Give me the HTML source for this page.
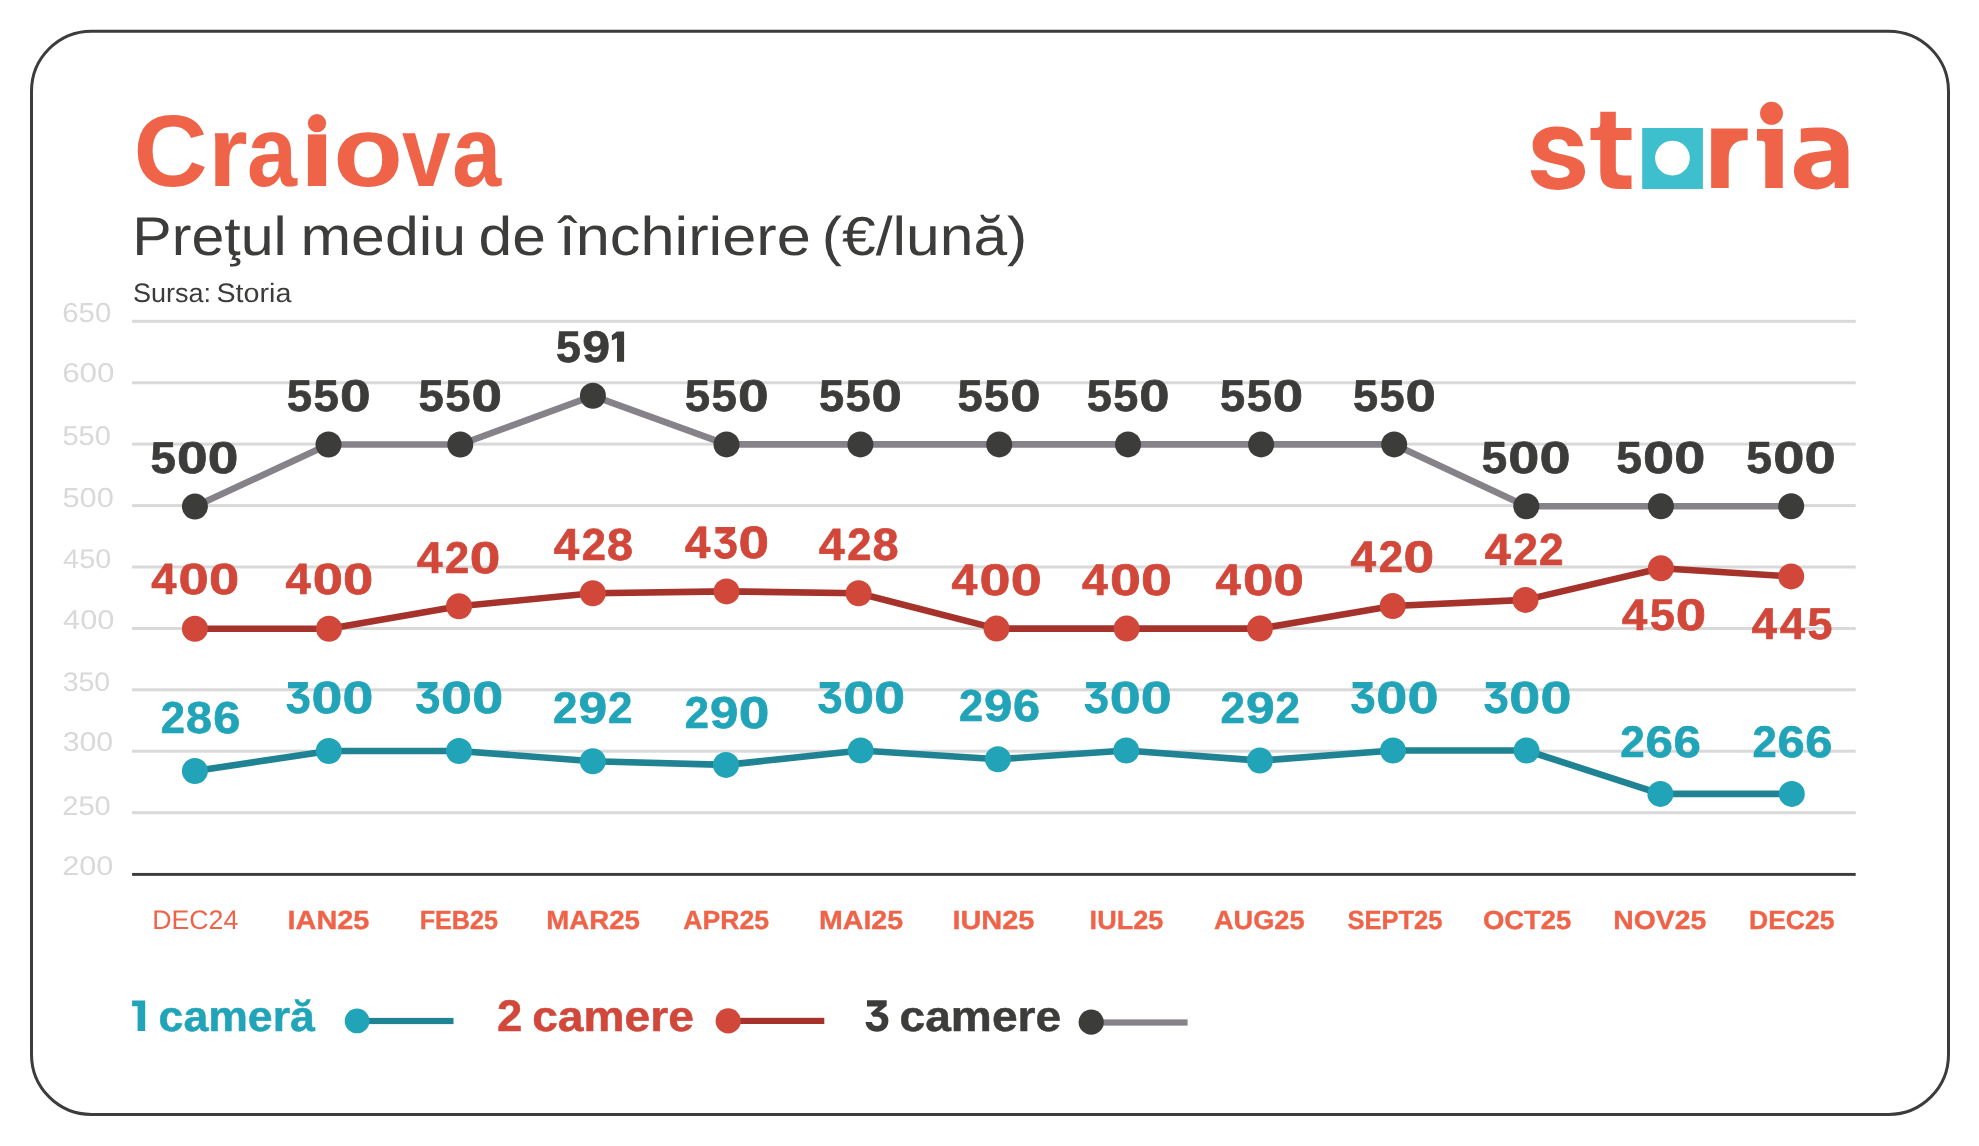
<!DOCTYPE html>
<html lang="ro"><head><meta charset="utf-8"><title>Craiova – Preţul mediu de închiriere</title>
<style>html,body{margin:0;padding:0;background:#fff;}body{width:1979px;height:1146px;overflow:hidden;font-family:"Liberation Sans",sans-serif;}svg{display:block;}</style>
</head><body>
<svg width="1979" height="1146" viewBox="0 0 1979 1146" font-family="'Liberation Sans', sans-serif" text-rendering="geometricPrecision" style="will-change:transform">
<rect x="0" y="0" width="1979" height="1146" fill="#ffffff"/>
<rect x="31.5" y="31.2" width="1917" height="1083.3" rx="60" ry="60" fill="none" stroke="#3c3c3b" stroke-width="3"/>
<rect x="132.1" y="319.8" width="1723.6" height="3" fill="#d9d9d9"/>
<rect x="132.1" y="381.3" width="1723.6" height="3" fill="#d9d9d9"/>
<rect x="132.1" y="442.6" width="1723.6" height="3" fill="#d9d9d9"/>
<rect x="132.1" y="504.1" width="1723.6" height="3" fill="#d9d9d9"/>
<rect x="132.1" y="565.5" width="1723.6" height="3" fill="#d9d9d9"/>
<rect x="132.1" y="627.0" width="1723.6" height="3" fill="#d9d9d9"/>
<rect x="132.1" y="688.3" width="1723.6" height="3" fill="#d9d9d9"/>
<rect x="132.1" y="749.7" width="1723.6" height="3" fill="#d9d9d9"/>
<rect x="132.1" y="811.2" width="1723.6" height="3" fill="#d9d9d9"/>
<rect x="132.1" y="872.95" width="1723.6" height="2.9" fill="#3c3c3b"/>
<polyline points="194.9,506.6 328.5,444.5 460.3,444.5 592.9,395.8 726.5,444.4 860.4,444.4 999.2,444.4 1128.0,444.4 1261.1,444.4 1394.2,444.4 1526.3,506.3 1660.9,506.3 1791.2,506.3" fill="none" stroke="#858289" stroke-width="6.6" stroke-linejoin="round"/>
<circle cx="194.9" cy="506.6" r="13.0" fill="#3c3c3b"/>
<circle cx="328.5" cy="444.5" r="13.0" fill="#3c3c3b"/>
<circle cx="460.3" cy="444.5" r="13.0" fill="#3c3c3b"/>
<circle cx="592.9" cy="395.8" r="13.0" fill="#3c3c3b"/>
<circle cx="726.5" cy="444.4" r="13.0" fill="#3c3c3b"/>
<circle cx="860.4" cy="444.4" r="13.0" fill="#3c3c3b"/>
<circle cx="999.2" cy="444.4" r="13.0" fill="#3c3c3b"/>
<circle cx="1128.0" cy="444.4" r="13.0" fill="#3c3c3b"/>
<circle cx="1261.1" cy="444.4" r="13.0" fill="#3c3c3b"/>
<circle cx="1394.2" cy="444.4" r="13.0" fill="#3c3c3b"/>
<circle cx="1526.3" cy="506.3" r="13.0" fill="#3c3c3b"/>
<circle cx="1660.9" cy="506.3" r="13.0" fill="#3c3c3b"/>
<circle cx="1791.2" cy="506.3" r="13.0" fill="#3c3c3b"/>
<polyline points="194.9,628.8 329.0,628.8 459.0,606.2 592.8,593.3 726.5,591.4 858.6,593.2 996.5,628.6 1126.6,628.6 1260.0,628.6 1392.7,606.0 1525.5,599.9 1660.9,568.3 1791.2,576.4" fill="none" stroke="#a5332c" stroke-width="6.6" stroke-linejoin="round"/>
<circle cx="194.9" cy="628.8" r="13.0" fill="#d1473a"/>
<circle cx="329.0" cy="628.8" r="13.0" fill="#d1473a"/>
<circle cx="459.0" cy="606.2" r="13.0" fill="#d1473a"/>
<circle cx="592.8" cy="593.3" r="13.0" fill="#d1473a"/>
<circle cx="726.5" cy="591.4" r="13.0" fill="#d1473a"/>
<circle cx="858.6" cy="593.2" r="13.0" fill="#d1473a"/>
<circle cx="996.5" cy="628.6" r="13.0" fill="#d1473a"/>
<circle cx="1126.6" cy="628.6" r="13.0" fill="#d1473a"/>
<circle cx="1260.0" cy="628.6" r="13.0" fill="#d1473a"/>
<circle cx="1392.7" cy="606.0" r="13.0" fill="#d1473a"/>
<circle cx="1525.5" cy="599.9" r="13.0" fill="#d1473a"/>
<circle cx="1660.9" cy="568.3" r="13.0" fill="#d1473a"/>
<circle cx="1791.2" cy="576.4" r="13.0" fill="#d1473a"/>
<polyline points="194.9,771.0 328.8,751.0 459.0,751.0 592.8,761.2 726.0,764.9 860.7,750.5 997.9,759.2 1126.2,750.5 1259.9,760.6 1393.0,750.5 1526.5,750.5 1660.4,793.9 1791.8,793.9" fill="none" stroke="#1f8394" stroke-width="6.6" stroke-linejoin="round"/>
<circle cx="194.9" cy="771.0" r="13.0" fill="#22a4b8"/>
<circle cx="328.8" cy="751.0" r="13.0" fill="#22a4b8"/>
<circle cx="459.0" cy="751.0" r="13.0" fill="#22a4b8"/>
<circle cx="592.8" cy="761.2" r="13.0" fill="#22a4b8"/>
<circle cx="726.0" cy="764.9" r="13.0" fill="#22a4b8"/>
<circle cx="860.7" cy="750.5" r="13.0" fill="#22a4b8"/>
<circle cx="997.9" cy="759.2" r="13.0" fill="#22a4b8"/>
<circle cx="1126.2" cy="750.5" r="13.0" fill="#22a4b8"/>
<circle cx="1259.9" cy="760.6" r="13.0" fill="#22a4b8"/>
<circle cx="1393.0" cy="750.5" r="13.0" fill="#22a4b8"/>
<circle cx="1526.5" cy="750.5" r="13.0" fill="#22a4b8"/>
<circle cx="1660.4" cy="793.9" r="13.0" fill="#22a4b8"/>
<circle cx="1791.8" cy="793.9" r="13.0" fill="#22a4b8"/>
<rect x="357" y="1017.9" width="96.5" height="6.2" fill="#1f8394"/><circle cx="357.1" cy="1020.9" r="12.4" fill="#22a4b8"/>
<rect x="728" y="1017.8" width="96.3" height="6.2" fill="#a5332c"/><circle cx="728.2" cy="1020.9" r="12.6" fill="#d1473a"/>
<rect x="1091" y="1019.4" width="96.6" height="6.2" fill="#858289"/><circle cx="1091.2" cy="1022.2" r="12.6" fill="#3c3c3b"/>
<!--LOGO-->
<path d="M 1583.09 146.26 L 1567.82 146.26 C 1566.95 141.02 1563.02 139.27 1557.35 139.27 C 1551.67 139.27 1548.18 141.89 1548.18 145.82 C 1548.18 150.62 1552.55 152.37 1563.02 154.55 C 1577.86 157.60 1585.01 161.09 1585.01 171.57 C 1585.01 182.91 1574.37 189.89 1557.78 189.89 C 1541.20 189.89 1532.04 182.04 1530.73 170.26 L 1546.44 170.26 C 1547.31 175.06 1551.67 177.94 1558.66 177.94 C 1565.64 177.94 1569.57 175.93 1569.57 172.00 C 1569.57 167.20 1563.89 165.89 1554.29 163.71 C 1539.46 160.66 1532.65 155.86 1532.65 145.38 C 1532.65 134.04 1542.07 126.62 1556.91 126.62 C 1571.75 126.62 1581.35 133.16 1583.09 146.26 Z" fill="#ef6349"/>
<path d="M 1600.29 111.78 L 1615.82 111.78 L 1615.82 128.10 L 1631.53 128.10 L 1631.53 139.97 L 1615.82 139.97 L 1615.82 168.07 C 1615.82 173.31 1618.00 175.49 1623.68 175.49 L 1631.53 175.49 L 1631.53 189.02 L 1619.75 189.02 C 1605.78 189.02 1600.29 183.78 1600.29 171.57 L 1600.29 139.97 L 1590.51 139.97 L 1590.51 128.10 L 1596.18 128.10 C 1598.80 128.10 1600.29 126.62 1600.29 123.56 Z" fill="#ef6349"/>
<path fill-rule="evenodd" d="M1642.2 128 H1702.9 V188.9 H1642.2 Z M1672.45 140.75 a17.35 17.35 0 1 0 0.01 0 Z" fill="#3ebfce"/>
<path d="M 1711.18 128.45 L 1747.65 128.45 L 1747.65 140.36 L 1744.90 140.36 C 1735.28 140.36 1728.68 146.32 1728.68 158.23 L 1728.68 188.01 L 1711.18 188.01 Z" fill="#ef6349"/>
<path d="M 1757.00 128.91 L 1782.75 128.91 L 1782.75 188.01 L 1765.25 188.01 L 1765.25 144.48 C 1765.25 141.74 1764.15 140.64 1761.86 140.64 L 1757.00 140.64 Z" fill="#ef6349"/>
<circle cx="1771.5" cy="113.3" r="11.45" fill="#ef6349"/>
<path fill-rule="evenodd" d="M 1800.80 128.72 C 1808.13 127.81 1814.55 127.53 1819.13 127.53 C 1837.46 127.53 1848.45 135.32 1848.45 151.82 L 1848.45 188.01 L 1834.71 188.01 L 1834.52 181.60 C 1830.13 186.64 1823.71 189.39 1816.38 189.39 C 1802.63 189.39 1793.93 182.06 1793.93 171.06 C 1793.93 159.15 1801.72 153.65 1815.46 152.00 L 1831.04 149.98 C 1831.04 143.57 1826.46 140.82 1818.21 140.82 C 1811.80 140.82 1805.38 141.74 1800.80 142.84 Z M 1831.04 160.52 L 1819.13 162.35 C 1813.63 163.27 1811.34 166.48 1811.34 169.68 C 1811.34 174.73 1815.46 177.47 1820.96 177.47 C 1827.38 177.47 1831.04 172.89 1831.04 167.39 Z" fill="#ef6349"/>
<text transform="translate(133.50 186.28) scale(1.0103 1)" font-size="101.55" font-weight="700" fill="#ef6349">C</text>
<text transform="translate(208.32 186.30) scale(1.0129 1)" font-size="100.00" font-weight="700" fill="#ef6349">r</text>
<text transform="translate(247.05 186.30) scale(0.8981 1)" font-size="100.00" font-weight="700" fill="#ef6349">a</text>
<text transform="translate(333.20 186.30) scale(1.1426 1)" font-size="100.00" font-weight="700" fill="#ef6349">o</text>
<text transform="translate(401.90 186.30) scale(0.8739 1)" font-size="100.00" font-weight="700" fill="#ef6349">v</text>
<text transform="translate(452.30 186.30) scale(0.8796 1)" font-size="100.00" font-weight="700" fill="#ef6349">a</text>
<text transform="translate(132.37 255.00) scale(1.0818 1)" font-size="54.64" fill="#3c3c3b">Preţul</text>
<text transform="translate(300.45 255.00) scale(1.1133 1)" font-size="54.64" fill="#3c3c3b">mediu</text>
<text transform="translate(478.48 255.00) scale(1.1076 1)" font-size="54.64" fill="#3c3c3b">de</text>
<text transform="translate(558.63 255.00) scale(1.1223 1)" font-size="54.64" fill="#3c3c3b">închiriere</text>
<text transform="translate(821.86 255.00) scale(1.1090 1)" font-size="54.64" fill="#3c3c3b">(€/lună)</text>
<text transform="translate(132.88 302.03) scale(1.0128 1)" font-size="26.71" fill="#3c3c3b">Sursa:</text>
<text transform="translate(216.51 302.03) scale(1.0730 1)" font-size="26.71" fill="#3c3c3b">Storia</text>
<text transform="translate(62.23 321.53) scale(1.0700 1)" font-size="27.46" fill="#d9d9d9">650</text>
<text transform="translate(62.13 382.43) scale(1.1555 1)" font-size="27.18" fill="#d9d9d9">600</text>
<text transform="translate(62.54 445.23) scale(1.0628 1)" font-size="27.18" fill="#d9d9d9">550</text>
<text transform="translate(62.47 506.83) scale(1.1227 1)" font-size="27.46" fill="#d9d9d9">500</text>
<text transform="translate(63.12 567.53) scale(1.0665 1)" font-size="27.04" fill="#d9d9d9">450</text>
<text transform="translate(63.09 629.33) scale(1.1294 1)" font-size="27.18" fill="#d9d9d9">400</text>
<text transform="translate(62.70 691.13) scale(1.0589 1)" font-size="26.90" fill="#d9d9d9">350</text>
<text transform="translate(62.64 751.33) scale(1.1147 1)" font-size="27.18" fill="#d9d9d9">300</text>
<text transform="translate(62.25 815.03) scale(1.0864 1)" font-size="26.76" fill="#d9d9d9">250</text>
<text transform="translate(62.16 875.33) scale(1.1358 1)" font-size="27.04" fill="#d9d9d9">200</text>
<text transform="translate(152.16 929.00) scale(0.9966 1)" font-size="26.81" fill="#ef6349">DEC24</text>
<text transform="translate(287.51 928.83) scale(1.0991 1)" font-size="26.30" font-weight="700" fill="#ef6349" stroke="#ef6349" stroke-width="0.35" stroke-linejoin="round">IAN25</text>
<text transform="translate(419.63 928.83) scale(0.9572 1)" font-size="26.30" font-weight="700" fill="#ef6349" stroke="#ef6349" stroke-width="0.35" stroke-linejoin="round">FEB25</text>
<text transform="translate(546.19 928.83) scale(1.0515 1)" font-size="26.30" font-weight="700" fill="#ef6349" stroke="#ef6349" stroke-width="0.35" stroke-linejoin="round">MAR25</text>
<text transform="translate(683.24 928.83) scale(1.0115 1)" font-size="26.30" font-weight="700" fill="#ef6349" stroke="#ef6349" stroke-width="0.35" stroke-linejoin="round">APR25</text>
<text transform="translate(819.03 928.83) scale(1.0858 1)" font-size="26.30" font-weight="700" fill="#ef6349" stroke="#ef6349" stroke-width="0.35" stroke-linejoin="round">MAI25</text>
<text transform="translate(952.41 928.83) scale(1.1005 1)" font-size="26.30" font-weight="700" fill="#ef6349" stroke="#ef6349" stroke-width="0.35" stroke-linejoin="round">IUN25</text>
<text transform="translate(1089.62 928.83) scale(1.0276 1)" font-size="26.30" font-weight="700" fill="#ef6349" stroke="#ef6349" stroke-width="0.35" stroke-linejoin="round">IUL25</text>
<text transform="translate(1213.94 928.83) scale(1.0328 1)" font-size="26.30" font-weight="700" fill="#ef6349" stroke="#ef6349" stroke-width="0.35" stroke-linejoin="round">AUG25</text>
<text transform="translate(1347.43 928.83) scale(0.9694 1)" font-size="26.30" font-weight="700" fill="#ef6349" stroke="#ef6349" stroke-width="0.35" stroke-linejoin="round">SEPT25</text>
<text transform="translate(1482.88 928.83) scale(1.0433 1)" font-size="26.30" font-weight="700" fill="#ef6349" stroke="#ef6349" stroke-width="0.35" stroke-linejoin="round">OCT25</text>
<text transform="translate(1613.14 928.83) scale(1.0794 1)" font-size="26.30" font-weight="700" fill="#ef6349" stroke="#ef6349" stroke-width="0.35" stroke-linejoin="round">NOV25</text>
<text transform="translate(1749.05 928.83) scale(1.0079 1)" font-size="26.30" font-weight="700" fill="#ef6349" stroke="#ef6349" stroke-width="0.35" stroke-linejoin="round">DEC25</text>
<text transform="translate(150.59 472.80) scale(1.0238 1)" font-size="44.51" font-weight="700" fill="#3c3c3b" stroke="#3c3c3b" stroke-width="0.7" stroke-linejoin="round">5</text>
<text transform="translate(176.90 472.80) scale(1.2385 1)" font-size="44.51" font-weight="700" fill="#3c3c3b" stroke="#3c3c3b" stroke-width="0.7" stroke-linejoin="round">0</text>
<text transform="translate(207.80 472.80) scale(1.2385 1)" font-size="44.51" font-weight="700" fill="#3c3c3b" stroke="#3c3c3b" stroke-width="0.7" stroke-linejoin="round">0</text>
<text transform="translate(286.79 410.60) scale(1.0238 1)" font-size="44.51" font-weight="700" fill="#3c3c3b" stroke="#3c3c3b" stroke-width="0.7" stroke-linejoin="round">5</text>
<text transform="translate(313.59 410.60) scale(1.0238 1)" font-size="44.51" font-weight="700" fill="#3c3c3b" stroke="#3c3c3b" stroke-width="0.7" stroke-linejoin="round">5</text>
<text transform="translate(339.90 410.60) scale(1.2385 1)" font-size="44.51" font-weight="700" fill="#3c3c3b" stroke="#3c3c3b" stroke-width="0.7" stroke-linejoin="round">0</text>
<text transform="translate(418.60 410.60) scale(1.0188 1)" font-size="44.51" font-weight="700" fill="#3c3c3b" stroke="#3c3c3b" stroke-width="0.7" stroke-linejoin="round">5</text>
<text transform="translate(445.26 410.60) scale(1.0188 1)" font-size="44.51" font-weight="700" fill="#3c3c3b" stroke="#3c3c3b" stroke-width="0.7" stroke-linejoin="round">5</text>
<text transform="translate(471.45 410.60) scale(1.2323 1)" font-size="44.51" font-weight="700" fill="#3c3c3b" stroke="#3c3c3b" stroke-width="0.7" stroke-linejoin="round">0</text>
<text transform="translate(556.01 361.61) scale(1.0074 1)" font-size="44.37" font-weight="700" fill="#3c3c3b" stroke="#3c3c3b" stroke-width="0.7" stroke-linejoin="round">5</text>
<text transform="translate(582.18 361.61) scale(1.1279 1)" font-size="44.37" font-weight="700" fill="#3c3c3b" stroke="#3c3c3b" stroke-width="0.7" stroke-linejoin="round">9</text>
<text transform="translate(684.79 410.60) scale(1.0238 1)" font-size="44.51" font-weight="700" fill="#3c3c3b" stroke="#3c3c3b" stroke-width="0.7" stroke-linejoin="round">5</text>
<text transform="translate(711.59 410.60) scale(1.0238 1)" font-size="44.51" font-weight="700" fill="#3c3c3b" stroke="#3c3c3b" stroke-width="0.7" stroke-linejoin="round">5</text>
<text transform="translate(737.90 410.60) scale(1.2385 1)" font-size="44.51" font-weight="700" fill="#3c3c3b" stroke="#3c3c3b" stroke-width="0.7" stroke-linejoin="round">0</text>
<text transform="translate(818.90 410.60) scale(1.0137 1)" font-size="44.51" font-weight="700" fill="#3c3c3b" stroke="#3c3c3b" stroke-width="0.7" stroke-linejoin="round">5</text>
<text transform="translate(845.44 410.60) scale(1.0137 1)" font-size="44.51" font-weight="700" fill="#3c3c3b" stroke="#3c3c3b" stroke-width="0.7" stroke-linejoin="round">5</text>
<text transform="translate(871.49 410.60) scale(1.2262 1)" font-size="44.51" font-weight="700" fill="#3c3c3b" stroke="#3c3c3b" stroke-width="0.7" stroke-linejoin="round">0</text>
<text transform="translate(957.50 410.60) scale(1.0150 1)" font-size="44.51" font-weight="700" fill="#3c3c3b" stroke="#3c3c3b" stroke-width="0.7" stroke-linejoin="round">5</text>
<text transform="translate(984.07 410.60) scale(1.0150 1)" font-size="44.51" font-weight="700" fill="#3c3c3b" stroke="#3c3c3b" stroke-width="0.7" stroke-linejoin="round">5</text>
<text transform="translate(1010.16 410.60) scale(1.2278 1)" font-size="44.51" font-weight="700" fill="#3c3c3b" stroke="#3c3c3b" stroke-width="0.7" stroke-linejoin="round">0</text>
<text transform="translate(1086.80 410.60) scale(1.0112 1)" font-size="44.51" font-weight="700" fill="#3c3c3b" stroke="#3c3c3b" stroke-width="0.7" stroke-linejoin="round">5</text>
<text transform="translate(1113.27 410.60) scale(1.0112 1)" font-size="44.51" font-weight="700" fill="#3c3c3b" stroke="#3c3c3b" stroke-width="0.7" stroke-linejoin="round">5</text>
<text transform="translate(1139.26 410.60) scale(1.2232 1)" font-size="44.51" font-weight="700" fill="#3c3c3b" stroke="#3c3c3b" stroke-width="0.7" stroke-linejoin="round">0</text>
<text transform="translate(1220.10 410.60) scale(1.0150 1)" font-size="44.51" font-weight="700" fill="#3c3c3b" stroke="#3c3c3b" stroke-width="0.7" stroke-linejoin="round">5</text>
<text transform="translate(1246.67 410.60) scale(1.0150 1)" font-size="44.51" font-weight="700" fill="#3c3c3b" stroke="#3c3c3b" stroke-width="0.7" stroke-linejoin="round">5</text>
<text transform="translate(1272.76 410.60) scale(1.2278 1)" font-size="44.51" font-weight="700" fill="#3c3c3b" stroke="#3c3c3b" stroke-width="0.7" stroke-linejoin="round">0</text>
<text transform="translate(1353.00 410.60) scale(1.0137 1)" font-size="44.51" font-weight="700" fill="#3c3c3b" stroke="#3c3c3b" stroke-width="0.7" stroke-linejoin="round">5</text>
<text transform="translate(1379.54 410.60) scale(1.0137 1)" font-size="44.51" font-weight="700" fill="#3c3c3b" stroke="#3c3c3b" stroke-width="0.7" stroke-linejoin="round">5</text>
<text transform="translate(1405.59 410.60) scale(1.2262 1)" font-size="44.51" font-weight="700" fill="#3c3c3b" stroke="#3c3c3b" stroke-width="0.7" stroke-linejoin="round">0</text>
<text transform="translate(1481.47 472.90) scale(1.0287 1)" font-size="44.93" font-weight="700" fill="#3c3c3b" stroke="#3c3c3b" stroke-width="0.7" stroke-linejoin="round">5</text>
<text transform="translate(1508.16 472.90) scale(1.2444 1)" font-size="44.93" font-weight="700" fill="#3c3c3b" stroke="#3c3c3b" stroke-width="0.7" stroke-linejoin="round">0</text>
<text transform="translate(1539.49 472.90) scale(1.2444 1)" font-size="44.93" font-weight="700" fill="#3c3c3b" stroke="#3c3c3b" stroke-width="0.7" stroke-linejoin="round">0</text>
<text transform="translate(1616.27 472.90) scale(1.0299 1)" font-size="44.93" font-weight="700" fill="#3c3c3b" stroke="#3c3c3b" stroke-width="0.7" stroke-linejoin="round">5</text>
<text transform="translate(1642.99 472.90) scale(1.2459 1)" font-size="44.93" font-weight="700" fill="#3c3c3b" stroke="#3c3c3b" stroke-width="0.7" stroke-linejoin="round">0</text>
<text transform="translate(1674.36 472.90) scale(1.2459 1)" font-size="44.93" font-weight="700" fill="#3c3c3b" stroke="#3c3c3b" stroke-width="0.7" stroke-linejoin="round">0</text>
<text transform="translate(1746.37 472.90) scale(1.0323 1)" font-size="44.93" font-weight="700" fill="#3c3c3b" stroke="#3c3c3b" stroke-width="0.7" stroke-linejoin="round">5</text>
<text transform="translate(1773.14 472.90) scale(1.2487 1)" font-size="44.93" font-weight="700" fill="#3c3c3b" stroke="#3c3c3b" stroke-width="0.7" stroke-linejoin="round">0</text>
<text transform="translate(1804.59 472.90) scale(1.2487 1)" font-size="44.93" font-weight="700" fill="#3c3c3b" stroke="#3c3c3b" stroke-width="0.7" stroke-linejoin="round">0</text>
<text transform="translate(151.28 594.21) scale(1.0359 1)" font-size="43.66" font-weight="700" fill="#d1473a" stroke="#d1473a" stroke-width="0.7" stroke-linejoin="round">4</text>
<text transform="translate(178.54 594.21) scale(1.2443 1)" font-size="43.66" font-weight="700" fill="#d1473a" stroke="#d1473a" stroke-width="0.7" stroke-linejoin="round">0</text>
<text transform="translate(209.01 594.21) scale(1.2443 1)" font-size="43.66" font-weight="700" fill="#d1473a" stroke="#d1473a" stroke-width="0.7" stroke-linejoin="round">0</text>
<text transform="translate(285.38 594.21) scale(1.0359 1)" font-size="43.66" font-weight="700" fill="#d1473a" stroke="#d1473a" stroke-width="0.7" stroke-linejoin="round">4</text>
<text transform="translate(312.64 594.21) scale(1.2443 1)" font-size="43.66" font-weight="700" fill="#d1473a" stroke="#d1473a" stroke-width="0.7" stroke-linejoin="round">0</text>
<text transform="translate(343.11 594.21) scale(1.2443 1)" font-size="43.66" font-weight="700" fill="#d1473a" stroke="#d1473a" stroke-width="0.7" stroke-linejoin="round">0</text>
<text transform="translate(416.97 572.80) scale(1.0285 1)" font-size="44.51" font-weight="700" fill="#d1473a" stroke="#d1473a" stroke-width="0.7" stroke-linejoin="round">4</text>
<text transform="translate(445.07 572.80) scale(0.9750 1)" font-size="44.51" font-weight="700" fill="#d1473a" stroke="#d1473a" stroke-width="0.7" stroke-linejoin="round">2</text>
<text transform="translate(469.78 572.80) scale(1.2354 1)" font-size="44.51" font-weight="700" fill="#d1473a" stroke="#d1473a" stroke-width="0.7" stroke-linejoin="round">0</text>
<text transform="translate(553.67 559.60) scale(1.0202 1)" font-size="44.93" font-weight="700" fill="#d1473a" stroke="#d1473a" stroke-width="0.7" stroke-linejoin="round">4</text>
<text transform="translate(581.80 559.60) scale(0.9673 1)" font-size="44.93" font-weight="700" fill="#d1473a" stroke="#d1473a" stroke-width="0.7" stroke-linejoin="round">2</text>
<text transform="translate(606.99 559.60) scale(1.0390 1)" font-size="44.93" font-weight="700" fill="#d1473a" stroke="#d1473a" stroke-width="0.7" stroke-linejoin="round">8</text>
<text transform="translate(684.97 558.20) scale(1.0062 1)" font-size="45.35" font-weight="700" fill="#d1473a" stroke="#d1473a" stroke-width="0.7" stroke-linejoin="round">4</text>
<text transform="translate(738.57 558.20) scale(1.2087 1)" font-size="45.35" font-weight="700" fill="#d1473a" stroke="#d1473a" stroke-width="0.7" stroke-linejoin="round">0</text>
<text transform="translate(819.07 559.80) scale(1.0180 1)" font-size="45.21" font-weight="700" fill="#d1473a" stroke="#d1473a" stroke-width="0.7" stroke-linejoin="round">4</text>
<text transform="translate(847.30 559.80) scale(0.9651 1)" font-size="45.21" font-weight="700" fill="#d1473a" stroke="#d1473a" stroke-width="0.7" stroke-linejoin="round">2</text>
<text transform="translate(872.60 559.80) scale(1.0367 1)" font-size="45.21" font-weight="700" fill="#d1473a" stroke="#d1473a" stroke-width="0.7" stroke-linejoin="round">8</text>
<text transform="translate(951.47 594.51) scale(1.0537 1)" font-size="44.08" font-weight="700" fill="#d1473a" stroke="#d1473a" stroke-width="0.7" stroke-linejoin="round">4</text>
<text transform="translate(979.45 594.51) scale(1.2657 1)" font-size="44.08" font-weight="700" fill="#d1473a" stroke="#d1473a" stroke-width="0.7" stroke-linejoin="round">0</text>
<text transform="translate(1010.74 594.51) scale(1.2657 1)" font-size="44.08" font-weight="700" fill="#d1473a" stroke="#d1473a" stroke-width="0.7" stroke-linejoin="round">0</text>
<text transform="translate(1082.07 594.51) scale(1.0477 1)" font-size="44.08" font-weight="700" fill="#d1473a" stroke="#d1473a" stroke-width="0.7" stroke-linejoin="round">4</text>
<text transform="translate(1109.90 594.51) scale(1.2585 1)" font-size="44.08" font-weight="700" fill="#d1473a" stroke="#d1473a" stroke-width="0.7" stroke-linejoin="round">0</text>
<text transform="translate(1141.01 594.51) scale(1.2585 1)" font-size="44.08" font-weight="700" fill="#d1473a" stroke="#d1473a" stroke-width="0.7" stroke-linejoin="round">0</text>
<text transform="translate(1215.48 594.51) scale(1.0334 1)" font-size="44.08" font-weight="700" fill="#d1473a" stroke="#d1473a" stroke-width="0.7" stroke-linejoin="round">4</text>
<text transform="translate(1242.92 594.51) scale(1.2414 1)" font-size="44.08" font-weight="700" fill="#d1473a" stroke="#d1473a" stroke-width="0.7" stroke-linejoin="round">0</text>
<text transform="translate(1273.61 594.51) scale(1.2414 1)" font-size="44.08" font-weight="700" fill="#d1473a" stroke="#d1473a" stroke-width="0.7" stroke-linejoin="round">0</text>
<text transform="translate(1350.57 571.81) scale(1.0354 1)" font-size="44.37" font-weight="700" fill="#d1473a" stroke="#d1473a" stroke-width="0.7" stroke-linejoin="round">4</text>
<text transform="translate(1378.77 571.81) scale(0.9816 1)" font-size="44.37" font-weight="700" fill="#d1473a" stroke="#d1473a" stroke-width="0.7" stroke-linejoin="round">2</text>
<text transform="translate(1403.57 571.81) scale(1.2438 1)" font-size="44.37" font-weight="700" fill="#d1473a" stroke="#d1473a" stroke-width="0.7" stroke-linejoin="round">0</text>
<text transform="translate(1484.66 565.15) scale(1.0379 1)" font-size="44.86" font-weight="700" fill="#d1473a" stroke="#d1473a" stroke-width="0.7" stroke-linejoin="round">4</text>
<text transform="translate(1513.24 565.15) scale(0.9840 1)" font-size="44.86" font-weight="700" fill="#d1473a" stroke="#d1473a" stroke-width="0.7" stroke-linejoin="round">2</text>
<text transform="translate(1538.90 565.15) scale(0.9840 1)" font-size="44.86" font-weight="700" fill="#d1473a" stroke="#d1473a" stroke-width="0.7" stroke-linejoin="round">2</text>
<text transform="translate(1621.88 630.21) scale(1.0242 1)" font-size="44.37" font-weight="700" fill="#d1473a" stroke="#d1473a" stroke-width="0.7" stroke-linejoin="round">4</text>
<text transform="translate(1649.73 630.21) scale(1.0171 1)" font-size="44.37" font-weight="700" fill="#d1473a" stroke="#d1473a" stroke-width="0.7" stroke-linejoin="round">5</text>
<text transform="translate(1675.79 630.21) scale(1.2303 1)" font-size="44.37" font-weight="700" fill="#d1473a" stroke="#d1473a" stroke-width="0.7" stroke-linejoin="round">0</text>
<text transform="translate(1751.68 638.91) scale(1.0149 1)" font-size="44.43" font-weight="700" fill="#d1473a" stroke="#d1473a" stroke-width="0.7" stroke-linejoin="round">4</text>
<text transform="translate(1779.98 638.91) scale(1.0149 1)" font-size="44.43" font-weight="700" fill="#d1473a" stroke="#d1473a" stroke-width="0.7" stroke-linejoin="round">4</text>
<text transform="translate(1807.62 638.91) scale(1.0079 1)" font-size="44.43" font-weight="700" fill="#d1473a" stroke="#d1473a" stroke-width="0.7" stroke-linejoin="round">5</text>
<text transform="translate(160.83 732.70) scale(0.9715 1)" font-size="44.79" font-weight="700" fill="#22a4b8" stroke="#22a4b8" stroke-width="0.7" stroke-linejoin="round">2</text>
<text transform="translate(186.06 732.70) scale(1.0435 1)" font-size="44.79" font-weight="700" fill="#22a4b8" stroke="#22a4b8" stroke-width="0.7" stroke-linejoin="round">8</text>
<text transform="translate(213.18 732.70) scale(1.0882 1)" font-size="44.79" font-weight="700" fill="#22a4b8" stroke="#22a4b8" stroke-width="0.7" stroke-linejoin="round">6</text>
<text transform="translate(311.44 712.90) scale(1.2307 1)" font-size="45.07" font-weight="700" fill="#22a4b8" stroke="#22a4b8" stroke-width="0.7" stroke-linejoin="round">0</text>
<text transform="translate(342.53 712.90) scale(1.2307 1)" font-size="45.07" font-weight="700" fill="#22a4b8" stroke="#22a4b8" stroke-width="0.7" stroke-linejoin="round">0</text>
<text transform="translate(441.03 712.90) scale(1.2350 1)" font-size="45.07" font-weight="700" fill="#22a4b8" stroke="#22a4b8" stroke-width="0.7" stroke-linejoin="round">0</text>
<text transform="translate(472.22 712.90) scale(1.2350 1)" font-size="45.07" font-weight="700" fill="#22a4b8" stroke="#22a4b8" stroke-width="0.7" stroke-linejoin="round">0</text>
<text transform="translate(553.03 722.51) scale(0.9937 1)" font-size="44.23" font-weight="700" fill="#22a4b8" stroke="#22a4b8" stroke-width="0.7" stroke-linejoin="round">2</text>
<text transform="translate(578.43 722.51) scale(1.1654 1)" font-size="44.23" font-weight="700" fill="#22a4b8" stroke="#22a4b8" stroke-width="0.7" stroke-linejoin="round">9</text>
<text transform="translate(608.00 722.51) scale(0.9937 1)" font-size="44.23" font-weight="700" fill="#22a4b8" stroke="#22a4b8" stroke-width="0.7" stroke-linejoin="round">2</text>
<text transform="translate(684.84 728.00) scale(0.9732 1)" font-size="44.65" font-weight="700" fill="#22a4b8" stroke="#22a4b8" stroke-width="0.7" stroke-linejoin="round">2</text>
<text transform="translate(709.94 728.00) scale(1.1413 1)" font-size="44.65" font-weight="700" fill="#22a4b8" stroke="#22a4b8" stroke-width="0.7" stroke-linejoin="round">9</text>
<text transform="translate(738.64 728.00) scale(1.2332 1)" font-size="44.65" font-weight="700" fill="#22a4b8" stroke="#22a4b8" stroke-width="0.7" stroke-linejoin="round">0</text>
<text transform="translate(843.18 712.90) scale(1.2358 1)" font-size="44.93" font-weight="700" fill="#22a4b8" stroke="#22a4b8" stroke-width="0.7" stroke-linejoin="round">0</text>
<text transform="translate(874.29 712.90) scale(1.2358 1)" font-size="44.93" font-weight="700" fill="#22a4b8" stroke="#22a4b8" stroke-width="0.7" stroke-linejoin="round">0</text>
<text transform="translate(959.04 721.10) scale(0.9690 1)" font-size="44.79" font-weight="700" fill="#22a4b8" stroke="#22a4b8" stroke-width="0.7" stroke-linejoin="round">2</text>
<text transform="translate(984.11 721.10) scale(1.1364 1)" font-size="44.79" font-weight="700" fill="#22a4b8" stroke="#22a4b8" stroke-width="0.7" stroke-linejoin="round">9</text>
<text transform="translate(1012.94 721.10) scale(1.0854 1)" font-size="44.79" font-weight="700" fill="#22a4b8" stroke="#22a4b8" stroke-width="0.7" stroke-linejoin="round">6</text>
<text transform="translate(1109.63 712.90) scale(1.2387 1)" font-size="44.93" font-weight="700" fill="#22a4b8" stroke="#22a4b8" stroke-width="0.7" stroke-linejoin="round">0</text>
<text transform="translate(1140.83 712.90) scale(1.2387 1)" font-size="44.93" font-weight="700" fill="#22a4b8" stroke="#22a4b8" stroke-width="0.7" stroke-linejoin="round">0</text>
<text transform="translate(1220.53 722.51) scale(0.9925 1)" font-size="44.23" font-weight="700" fill="#22a4b8" stroke="#22a4b8" stroke-width="0.7" stroke-linejoin="round">2</text>
<text transform="translate(1245.89 722.51) scale(1.1639 1)" font-size="44.23" font-weight="700" fill="#22a4b8" stroke="#22a4b8" stroke-width="0.7" stroke-linejoin="round">9</text>
<text transform="translate(1275.43 722.51) scale(0.9925 1)" font-size="44.23" font-weight="700" fill="#22a4b8" stroke="#22a4b8" stroke-width="0.7" stroke-linejoin="round">2</text>
<text transform="translate(1376.22 712.90) scale(1.2431 1)" font-size="44.93" font-weight="700" fill="#22a4b8" stroke="#22a4b8" stroke-width="0.7" stroke-linejoin="round">0</text>
<text transform="translate(1407.52 712.90) scale(1.2431 1)" font-size="44.93" font-weight="700" fill="#22a4b8" stroke="#22a4b8" stroke-width="0.7" stroke-linejoin="round">0</text>
<text transform="translate(1509.36 712.90) scale(1.2402 1)" font-size="44.93" font-weight="700" fill="#22a4b8" stroke="#22a4b8" stroke-width="0.7" stroke-linejoin="round">0</text>
<text transform="translate(1540.59 712.90) scale(1.2402 1)" font-size="44.93" font-weight="700" fill="#22a4b8" stroke="#22a4b8" stroke-width="0.7" stroke-linejoin="round">0</text>
<text transform="translate(1620.33 756.61) scale(0.9918 1)" font-size="44.37" font-weight="700" fill="#22a4b8" stroke="#22a4b8" stroke-width="0.7" stroke-linejoin="round">2</text>
<text transform="translate(1645.56 756.61) scale(1.1110 1)" font-size="44.37" font-weight="700" fill="#22a4b8" stroke="#22a4b8" stroke-width="0.7" stroke-linejoin="round">6</text>
<text transform="translate(1673.58 756.61) scale(1.1110 1)" font-size="44.37" font-weight="700" fill="#22a4b8" stroke="#22a4b8" stroke-width="0.7" stroke-linejoin="round">6</text>
<text transform="translate(1752.44 756.61) scale(0.9830 1)" font-size="44.37" font-weight="700" fill="#22a4b8" stroke="#22a4b8" stroke-width="0.7" stroke-linejoin="round">2</text>
<text transform="translate(1777.44 756.61) scale(1.1011 1)" font-size="44.37" font-weight="700" fill="#22a4b8" stroke="#22a4b8" stroke-width="0.7" stroke-linejoin="round">6</text>
<text transform="translate(1805.21 756.61) scale(1.1011 1)" font-size="44.37" font-weight="700" fill="#22a4b8" stroke="#22a4b8" stroke-width="0.7" stroke-linejoin="round">6</text>
<text transform="translate(158.60 1030.82) scale(1.0395 1)" font-size="42.91" font-weight="700" fill="#22a4b8" stroke="#22a4b8" stroke-width="0.5" stroke-linejoin="round">cameră</text>
<text transform="translate(496.89 1030.55) scale(1.0270 1)" font-size="44.29" font-weight="700" fill="#d1473a" stroke="#d1473a" stroke-width="0.5" stroke-linejoin="round">2</text>
<text transform="translate(532.15 1030.82) scale(1.0759 1)" font-size="42.91" font-weight="700" fill="#d1473a" stroke="#d1473a" stroke-width="0.5" stroke-linejoin="round">camere</text>
<text transform="translate(899.55 1030.82) scale(1.0752 1)" font-size="42.91" font-weight="700" fill="#3c3c3b" stroke="#3c3c3b" stroke-width="0.5" stroke-linejoin="round">camere</text>
<rect x="307.9" y="134.4" width="18.2" height="51.6" fill="#ef6349"/><circle cx="317" cy="123.2" r="9.1" fill="#ef6349"/>
<path d="M616.99 331.40 H624.10 V361.80 H616.99 V337.94 L611.84 340.52 V335.35 Z" fill="#3c3c3b"/>
<path d="M 715.40 527.10 L 735.07 527.10 L 735.07 532.67 L 727.45 539.00 C 733.35 539.51 736.79 542.29 736.79 547.61 C 736.79 554.95 731.87 559.00 725.48 559.00 C 719.09 559.00 714.66 555.46 713.93 549.13 L 720.32 549.13 C 720.81 551.91 722.78 553.18 725.48 553.18 C 728.43 553.18 730.15 551.15 730.15 548.37 C 730.15 545.58 728.18 543.81 724.99 543.81 L 721.45 543.81 L 719.09 540.27 L 726.71 533.43 L 715.40 533.43 Z " fill="#d1473a"/>
<path d="M 287.99 682.00 L 307.89 682.00 L 307.89 687.53 L 300.18 693.82 C 306.15 694.33 309.64 697.10 309.64 702.38 C 309.64 709.67 304.66 713.70 298.19 713.70 C 291.72 713.70 287.25 710.18 286.50 703.89 L 292.97 703.89 C 293.47 706.66 295.46 707.91 298.19 707.91 C 301.18 707.91 302.92 705.90 302.92 703.13 C 302.92 700.37 300.93 698.60 297.69 698.60 L 294.11 698.60 L 291.72 695.08 L 299.44 688.29 L 287.99 688.29 Z " fill="#22a4b8"/>
<path d="M 417.50 682.00 L 437.47 682.00 L 437.47 687.53 L 429.73 693.82 C 435.72 694.33 439.22 697.10 439.22 702.38 C 439.22 709.67 434.22 713.70 427.73 713.70 C 421.24 713.70 416.75 710.18 416.00 703.89 L 422.49 703.89 C 422.99 706.66 424.99 707.91 427.73 707.91 C 430.73 707.91 432.48 705.90 432.48 703.13 C 432.48 700.37 430.48 698.60 427.23 698.60 L 423.64 698.60 L 421.24 695.08 L 428.98 688.29 L 417.50 688.29 Z " fill="#22a4b8"/>
<path d="M 819.69 682.10 L 839.62 682.10 L 839.62 687.62 L 831.90 693.89 C 837.88 694.39 841.36 697.15 841.36 702.41 C 841.36 709.69 836.38 713.70 829.91 713.70 C 823.43 713.70 818.95 710.19 818.20 703.92 L 824.68 703.92 C 825.17 706.68 827.17 707.93 829.91 707.93 C 832.89 707.93 834.64 705.93 834.64 703.17 C 834.64 700.41 832.65 698.65 829.41 698.65 L 825.82 698.65 L 823.43 695.14 L 831.15 688.37 L 819.69 688.37 Z " fill="#22a4b8"/>
<path d="M 1086.10 682.10 L 1106.07 682.10 L 1106.07 687.62 L 1098.33 693.89 C 1104.32 694.39 1107.82 697.15 1107.82 702.41 C 1107.82 709.69 1102.82 713.70 1096.33 713.70 C 1089.84 713.70 1085.35 710.19 1084.60 703.92 L 1091.09 703.92 C 1091.59 706.68 1093.59 707.93 1096.33 707.93 C 1099.33 707.93 1101.08 705.93 1101.08 703.17 C 1101.08 700.41 1099.08 698.65 1095.83 698.65 L 1092.24 698.65 L 1089.84 695.14 L 1097.58 688.37 L 1086.10 688.37 Z " fill="#22a4b8"/>
<path d="M 1352.60 682.10 L 1372.64 682.10 L 1372.64 687.62 L 1364.88 693.89 C 1370.89 694.39 1374.40 697.15 1374.40 702.41 C 1374.40 709.69 1369.39 713.70 1362.87 713.70 C 1356.36 713.70 1351.85 710.19 1351.10 703.92 L 1357.61 703.92 C 1358.11 706.68 1360.12 707.93 1362.87 707.93 C 1365.88 707.93 1367.63 705.93 1367.63 703.17 C 1367.63 700.41 1365.63 698.65 1362.37 698.65 L 1358.77 698.65 L 1356.36 695.14 L 1364.13 688.37 L 1352.60 688.37 Z " fill="#22a4b8"/>
<path d="M 1485.80 682.10 L 1505.79 682.10 L 1505.79 687.62 L 1498.05 693.89 C 1504.04 694.39 1507.54 697.15 1507.54 702.41 C 1507.54 709.69 1502.55 713.70 1496.05 713.70 C 1489.55 713.70 1485.05 710.19 1484.30 703.92 L 1490.80 703.92 C 1491.30 706.68 1493.30 707.93 1496.05 707.93 C 1499.05 707.93 1500.80 705.93 1500.80 703.17 C 1500.80 700.41 1498.80 698.65 1495.55 698.65 L 1491.95 698.65 L 1489.55 695.14 L 1497.30 688.37 L 1485.80 688.37 Z " fill="#22a4b8"/>
<path d="M132.1 1000.4 H145.2 V1031 H137.6 V1006.2 H132.1 Z" fill="#22a4b8"/>
<path d="M 866.98 1000.20 L 886.68 1000.20 L 886.68 1005.70 L 879.04 1011.95 C 884.95 1012.45 888.40 1015.20 888.40 1020.45 C 888.40 1027.70 883.48 1031.70 877.07 1031.70 C 870.67 1031.70 866.24 1028.20 865.50 1021.95 L 871.90 1021.95 C 872.39 1024.70 874.36 1025.95 877.07 1025.95 C 880.03 1025.95 881.75 1023.95 881.75 1021.20 C 881.75 1018.45 879.78 1016.70 876.58 1016.70 L 873.03 1016.70 L 870.67 1013.20 L 878.30 1006.45 L 866.98 1006.45 Z " fill="#3c3c3b"/>
</svg>
</body></html>
